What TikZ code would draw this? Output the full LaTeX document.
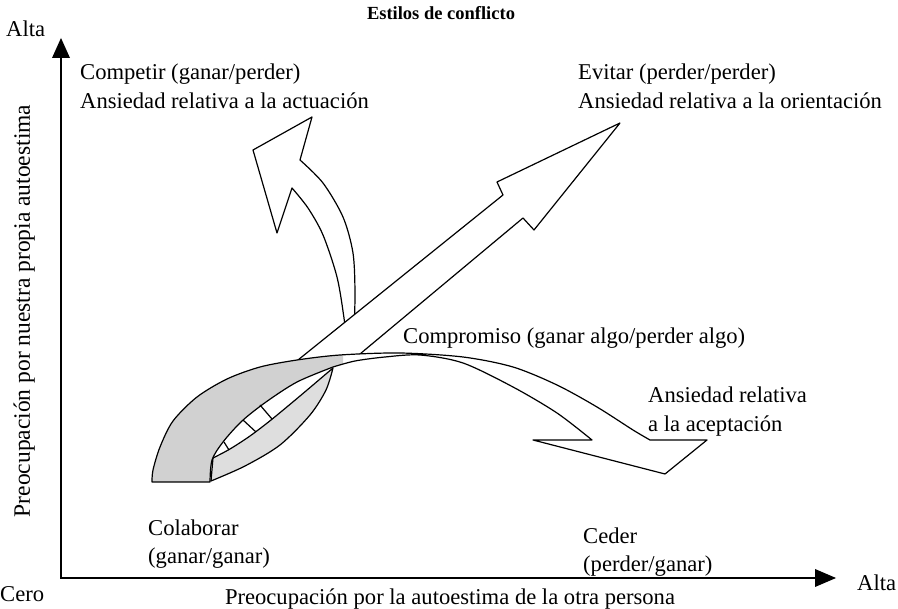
\documentclass[tikz,border=0pt]{standalone}
\usepackage{fontspec}
\setmainfont{Liberation Serif}
\newcommand\myRibPath{(152,482) -- plot[smooth] coordinates {(152,482) (153,470) (160,447) (173,421) (197,397) (227,379) (260,367) (297,360) (340,355) (400,353) (463,357) (513,367) (557,385) (597,407) (633,430) (650,440)} -- (707,440) -- (665,474) -- (533,440) -- (592,440) -- plot[smooth] coordinates {(592,440) (557,413) (513,387) (463,363) (420,355) (385,357) (355,361) (333,367)} -- plot[smooth] coordinates {(333,367) (297,382) (266,402) (242,421) (223,442) (212,460) (210,482)} -- cycle}
\begin{document}
\begin{tikzpicture}[x=1pt,y=-1pt,
  lbl/.style={font=\fontsize{22.6}{29}\selectfont, inner sep=0pt, anchor=base west},
  outl/.style={line width=1.2pt, line join=round},
  ribA/.style={fill=black!18},
  ribB/.style={fill=black!13}]
\useasboundingbox (0,0) rectangle (898,609);

% axes
\draw[line width=1.5pt] (61,56) -- (61,578) -- (818,578);
\fill (61,38) -- (52,58) -- (70,58) -- cycle;
\fill (836,578) -- (815,569) -- (815,587) -- cycle;

% Competir arrow
\filldraw[outl, fill=white] (253,150) -- (312,117) -- (300,160)
  -- plot[smooth] coordinates {(300,160) (323,183) (343,217) (353,253) (355,293) (354,332)}
  -- (345,332)
  -- plot[smooth] coordinates {(345,332) (344,318) (337,277) (323,235) (308,208) (292,188)}
  -- (277,233) -- cycle;

% Evitar straight arrow
\fill[white] (290,366) -- (503,195) -- (497,182) -- (620,123) -- (534,230) -- (523,218) -- (352,360) -- cycle;
\draw[outl] (293,364) -- (503,195) -- (497,182) -- (620,123) -- (534,230) -- (523,218) -- (354,359);

% ribbon A + Ceder arrow
\fill[white] \myRibPath;
\begin{scope}
  \clip (0,0) rectangle (343,609);
  \fill[ribA] \myRibPath;
\end{scope}

% ribbon B
\filldraw[outl, ribB] plot[smooth] coordinates {(211,481) (245,466) (280,445) (310,415) (326,390) (333,368)}
  -- plot[smooth] coordinates {(333,368) (300,396) (271,420) (250,436) (230,449) (213,458)} -- cycle;

% tail cross bars in the lens
\draw[outl] (272,419) -- (260,405);
\draw[outl] (243,420) -- (256,432);
\draw[outl] (224,442) -- (229,450);

\draw[outl] \myRibPath;

% texts
\node[font=\fontsize{18.5}{22}\selectfont\bfseries, inner sep=0pt, anchor=base] (tit) at (441,20) {Estilos de conflicto};
\node[lbl] (altaT) at (6,37) {Alta};
\node[lbl] (comp1) at (80,80) {Competir (ganar/perder)};
\node[lbl] (comp2) at (80,109) {Ansiedad relativa a la actuación};
\node[lbl] (evi1) at (578,80) {Evitar (perder/perder)};
\node[lbl] (evi2) at (578,109) {Ansiedad relativa a la orientación};
\node[lbl] (compr) at (403,344) {Compromiso (ganar algo/perder algo)};
\node[lbl] (ans1) at (648,403) {Ansiedad relativa};
\node[lbl] (ans2) at (648,432) {a la aceptación};
\node[lbl] (col1) at (148,536) {Colaborar};
\node[lbl] (col2) at (148,564) {(ganar/ganar)};
\node[lbl] (ced1) at (583,544) {Ceder};
\node[lbl] (ced2) at (583,572) {(perder/ganar)};
\node[lbl] (cero) at (0,602) {Cero};
\node[lbl, anchor=base] (xlab) at (450,605) {Preocupación por la autoestima de la otra persona};
\node[lbl] (altaR) at (857,591) {Alta};
\node[lbl, anchor=base, rotate=90, font=\fontsize{23.5}{29}\selectfont] (ylab) at (30,311) {Preocupación por nuestra propia autoestima};
\end{tikzpicture}
\end{document}
